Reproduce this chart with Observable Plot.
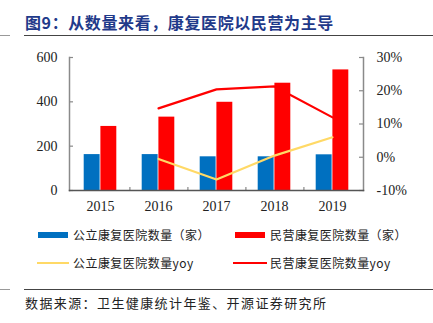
<!DOCTYPE html>
<html><head><meta charset="utf-8">
<script src="https://cdn.jsdelivr.net/npm/d3@7"></script>
<script src="https://cdn.jsdelivr.net/npm/@observablehq/plot@0.6"></script>
<style>
html,body{margin:0;padding:0;background:#fff;}
#wrap{position:relative;width:433px;height:323px;overflow:hidden;font-family:"Noto Sans CJK SC",sans-serif;}
.abs{position:absolute;}
#title{left:25px;top:10px;font-size:16px;font-weight:bold;color:#1F3A8A;letter-spacing:0.6px;white-space:nowrap;}
.hl{position:absolute;height:1px;background:#444;}
.hls{position:absolute;height:1px;background:#999;}
#chart{left:0;top:45px;}
.leg{font-size:12px;letter-spacing:0.45px;color:#222;white-space:nowrap;}
.sw{position:absolute;}
#src{left:25px;top:293px;font-size:13px;letter-spacing:1.4px;color:#222;white-space:nowrap;}
</style></head>
<body><div id="wrap">
<div id="title" class="abs">图9：从数量来看，康复医院以民营为主导</div>
<div class="hls" style="left:0;top:35px;width:10px;"></div>
<div class="hl" style="left:24px;top:35px;width:409px;"></div>
<div id="chart" class="abs"></div>
<div class="sw" style="left:38px;top:232px;width:30px;height:6px;background:#0070C0;"></div>
<div class="abs leg" style="left:73px;top:226px;">公立康复医院数量（家）</div>
<div class="sw" style="left:235px;top:232px;width:30px;height:6px;background:#FF0000;"></div>
<div class="abs leg" style="left:270px;top:226px;">民营康复医院数量（家）</div>
<div class="sw" style="left:37px;top:262px;width:32px;height:2px;background:#FFD966;"></div>
<div class="abs leg" style="left:73px;top:254px;">公立康复医院数量yoy</div>
<div class="sw" style="left:233px;top:262px;width:34px;height:2px;background:#FF0000;"></div>
<div class="abs leg" style="left:270px;top:254px;">民营康复医院数量yoy</div>
<div class="hls" style="left:0;top:289px;width:10px;"></div>
<div class="hl" style="left:24px;top:289px;width:409px;"></div>
<div id="src" class="abs">数据来源：卫生健康统计年鉴、开源证券研究所</div>
</div>
<script>
const years = ["2015","2016","2017","2018","2019"];
const publicCount = [162, 162, 152, 152, 161];
const privateCount = [289, 331, 398, 484, 544];
const publicYoy = [null, -0.5, -6.7, 0.5, 6.0];
const privateYoy = [null, 14.7, 20.4, 21.3, 12.0];
const leftTicks = [0, 200, 400, 600];
const rightTicks = [-10, 0, 10, 20, 30];
const leftDomain = [0, 600];
const rightDomain = [-10, 30];

const toLeft = p => leftDomain[0] + (p - rightDomain[0]) / (rightDomain[1] - rightDomain[0]) * (leftDomain[1] - leftDomain[0]);
const rows = years.map((y, i) => ({year: y, pub: publicCount[i], priv: privateCount[i], pubYoy: publicYoy[i], privYoy: privateYoy[i]}));
const W = 433, H = 170, mL = 69, mR = 70;
const plotW = W - mL - mR;
const bw = plotW / years.length;
const barW = 16.7;
const tick = 4;

const chart = Plot.plot({
  width: W, height: H,
  marginLeft: mL, marginRight: mR, marginTop: 12, marginBottom: 25,
  style: {fontFamily: "'Liberation Serif', serif", fontSize: "14px", color: "#222", background: "#fff"},
  x: {type: "band", domain: years, padding: 0, label: null},
  y: {domain: leftDomain, label: null},
  marks: [
    Plot.barY(rows, {x: "year", y: "pub", fill: "#0070C0", insetLeft: bw/2 - barW, insetRight: bw/2}),
    Plot.barY(rows, {x: "year", y: "priv", fill: "#FF0000", insetLeft: bw/2, insetRight: bw/2 - barW}),
    Plot.line(rows.filter(d => d.pubYoy != null), {x: "year", y: d => toLeft(d.pubYoy), stroke: "#FFD966", strokeWidth: 2.2}),
    Plot.line(rows.filter(d => d.privYoy != null), {x: "year", y: d => toLeft(d.privYoy), stroke: "#FF0000", strokeWidth: 2.2}),
    Plot.frame({anchor: "left", stroke: "#8a8a8a", strokeWidth: 1.5}),
    Plot.frame({anchor: "right", stroke: "#8a8a8a", strokeWidth: 1.5}),
    Plot.ruleY(leftTicks, {y: d => d, stroke: "#8a8a8a", strokeWidth: 1.2, insetRight: plotW - tick}),
    Plot.ruleY(rightTicks.map(toLeft), {y: d => d, stroke: "#8a8a8a", strokeWidth: 1.2, insetLeft: plotW - tick}),
    Plot.ruleX(years.slice(0, -1), {x: d => d, dx: bw/2, y1: leftDomain[0], y2: (leftDomain[1]-leftDomain[0]) * 3 / 133, stroke: "#8a8a8a", strokeWidth: 1.2}),
    Plot.frame({anchor: "bottom", stroke: "#555", strokeWidth: 1.5}),
    Plot.axisY({ticks: leftTicks, tickSize: 0, tickPadding: 12, fontSize: 14, label: null}),
    Plot.axisY({anchor: "right", ticks: rightTicks.map(toLeft), tickSize: 0, tickPadding: 13, fontSize: 14, label: null,
      tickFormat: v => `${Math.round(rightDomain[0] + (v - leftDomain[0]) / (leftDomain[1]-leftDomain[0]) * (rightDomain[1]-rightDomain[0]))}%`}),
    Plot.axisX({tickSize: 0, tickPadding: 11, fontSize: 14, label: null})
  ]
});
document.getElementById("chart").appendChild(chart);
</script>
</body></html>
